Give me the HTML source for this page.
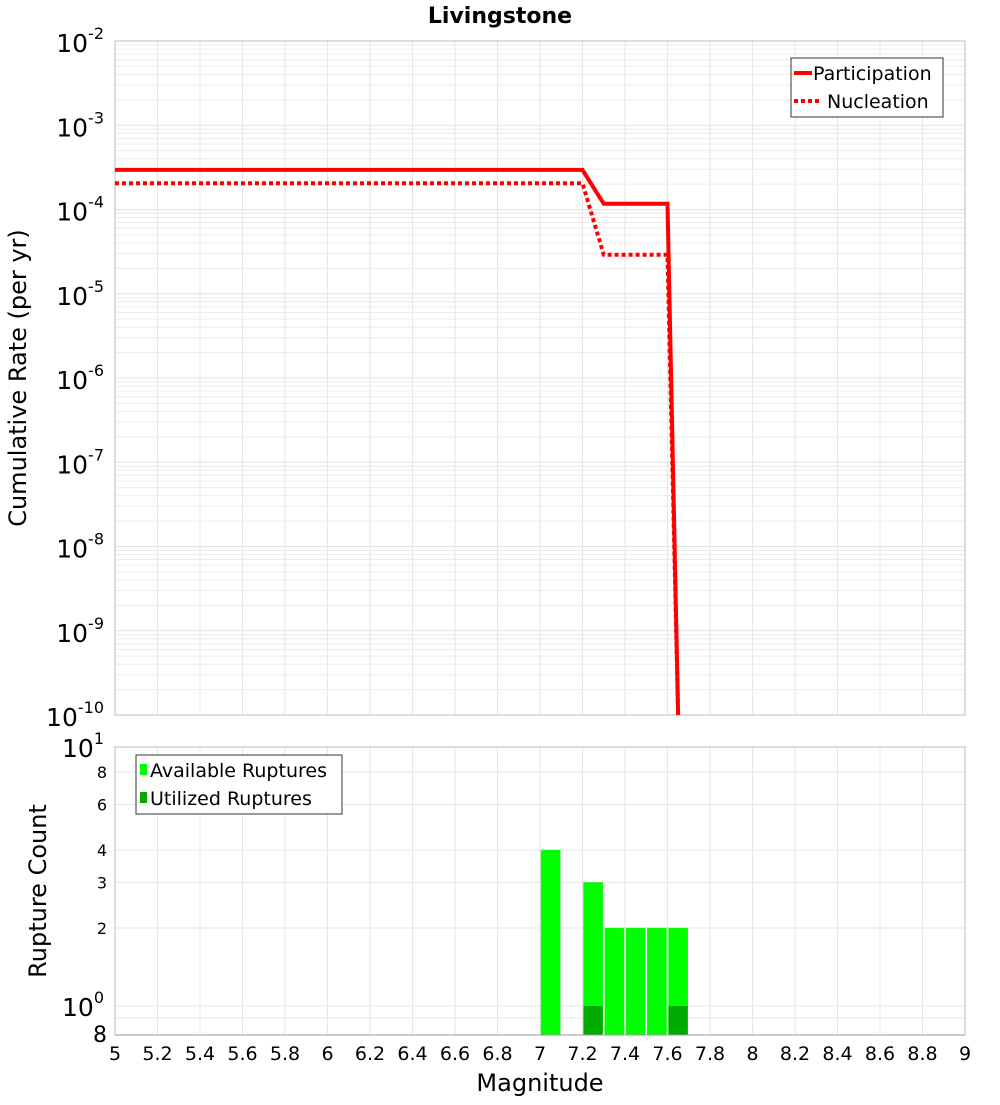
<!DOCTYPE html>
<html><head><meta charset="utf-8"><style>
body{margin:0;background:#fff;font-family:"Liberation Sans","DejaVu Sans",sans-serif}
svg text{font-family:"DejaVu Sans","Liberation Sans",sans-serif}
</style></head><body>
<svg id="c" width="1000" height="1100" xmlns="http://www.w3.org/2000/svg"></svg>
<script>
const partMags=[5,7.2,7.3,7.6,7.65];
const partVals=[2.95e-4,2.95e-4,1.17e-4,1.17e-4,1e-10];
const nuclMags=[5,7.2,7.3,7.6,7.65];
const nuclVals=[2.05e-4,2.05e-4,2.9e-5,2.9e-5,1e-10];
const binStarts=[7.0,7.2,7.3,7.4,7.5,7.6];
const availCounts=[4,3,2,2,2,2];
const utilCounts=[0,1,0,0,0,1];
const xTicks=[5,5.2,5.4,5.6,5.8,6,6.2,6.4,6.6,6.8,7,7.2,7.4,7.6,7.8,8,8.2,8.4,8.6,8.8,9];
const topExps=[-2,-3,-4,-5,-6,-7,-8,-9,-10];
const botTicks=[8,6,4,3,2];

const S=document.getElementById('c');const NS='http://www.w3.org/2000/svg';
function el(t,a,p,name){const e=document.createElementNS(NS,t);for(const k in a)e.setAttribute(k,a[k]);


(p||S).appendChild(e);return e;}
const X0=115,X1=965;
const x=m=>X0+(m-5)/4*(X1-X0);
const TY0=41,TY1=715;
const yT=v=>TY0+(-2-Math.log10(v))*(TY1-TY0)/8;
const BY0=747,BY1=1035;
const yB=v=>BY0+(1-Math.log10(v))*259;

const gT=el('g',{},S,'top-grid');
for(let e=-10;e<-2;e++)for(let k=1;k<10;k++){const v=k*Math.pow(10,e);const yy=yT(v);
el('line',{x1:X0,x2:X1,y1:yy,y2:yy,stroke:k==1?'#e0e0e0':'#ececec','stroke-width':1},gT,'grid-line');}
xTicks.forEach(t=>{el('line',{x1:x(t),x2:x(t),y1:TY0,y2:TY1,stroke:'#e6e6e6'},gT,'grid-line');});
el('rect',{x:X0,y:TY0,width:X1-X0,height:TY1-TY0,fill:'none',stroke:'#bbb'},S,'top-plot-frame');
const gB=el('g',{},S,'bottom-grid');
[10,8,6,4,3,2,1,0.9].forEach(v=>{const yy=yB(v);el('line',{x1:X0,x2:X1,y1:yy,y2:yy,stroke:'#e6e6e6'},gB,'grid-line');});
xTicks.forEach(t=>{el('line',{x1:x(t),x2:x(t),y1:BY0,y2:BY1,stroke:'#e6e6e6'},gB,'grid-line');});
el('rect',{x:X0,y:BY0,width:X1-X0,height:BY1-BY0,fill:'none',stroke:'#bbb'},S,'bottom-plot-frame');

const tt=el('text',{x:500,y:23,'text-anchor':'middle','font-size':22,'font-weight':'bold'},S,'chart-title');tt.textContent='Livingstone';

function pts(ms,vs){return ms.map((m,i)=>x(m)+','+Math.min(yT(vs[i]),TY1+2)).join(' ');}
const clip=el('clipPath',{id:'cp'},S,'clip');el('rect',{x:X0,y:TY0,width:X1-X0,height:TY1-TY0},clip,'clip-rect');
el('polyline',{points:pts(nuclMags,nuclVals),fill:'none',stroke:'#f00','stroke-width':4,'stroke-dasharray':'4 3','clip-path':'url(#cp)'},S,'nucleation-line');
el('polyline',{points:pts(partMags,partVals),fill:'none',stroke:'#f00','stroke-width':4,'clip-path':'url(#cp)'},S,'participation-line');

topExps.forEach(e=>{const yy=yT(Math.pow(10,e));const t=el('text',{x:104,y:yy+11,'text-anchor':'end','font-size':25},S,'y-tick-label');
t.innerHTML='10<tspan dy="-13" font-size="16">'+e+'</tspan>';});
const yl=el('text',{transform:'translate(26,378) rotate(-90)','text-anchor':'middle','font-size':24},S,'y-axis-title');yl.textContent='Cumulative Rate (per yr)';

const lg=el('g',{},S,'top-legend');
el('rect',{x:791,y:58,width:152,height:59,fill:'#fff',stroke:'#333'},lg,'legend-box');
el('line',{x1:794,x2:812,y1:73,y2:73,stroke:'#f00','stroke-width':4},lg,'legend-participation-swatch');
el('line',{x1:794,x2:822,y1:101,y2:101,stroke:'#f00','stroke-width':4,'stroke-dasharray':'4 3'},lg,'legend-nucleation-swatch');
let t1=el('text',{x:813,y:80,'font-size':19},lg,'legend-participation');t1.textContent='Participation';
let t2=el('text',{x:827,y:108,'font-size':19},lg,'legend-nucleation');t2.textContent='Nucleation';

binStarts.forEach((b,i)=>{
 const r=el('rect',{x:x(b)+1,y:yB(availCounts[i]),width:x(b+0.1)-x(b)-2,height:BY1-yB(availCounts[i]),fill:'#00ff00',stroke:'#33ee33','stroke-width':0.5},S,'available-bar');
 if(utilCounts[i]>0){el('rect',{x:x(b)+1,y:yB(utilCounts[i]),width:x(b+0.1)-x(b)-2,height:BY1-yB(utilCounts[i]),fill:'#00aa00'},S,'utilized-bar');}
});
el('line',{x1:X0,x2:X1,y1:BY1,y2:BY1,stroke:'#999'},S,'bottom-x-axis');

let a=el('text',{x:104,y:yB(10)+10,'text-anchor':'end','font-size':25},S,'y-tick-label');a.innerHTML='10<tspan dy="-13" font-size="16">1</tspan>';
let b=el('text',{x:104,y:yB(1)+10,'text-anchor':'end','font-size':25},S,'y-tick-label');b.innerHTML='10<tspan dy="-13" font-size="16">0</tspan>';
botTicks.forEach(v=>{const t=el('text',{x:107,y:yB(v)+6,'text-anchor':'end','font-size':16},S,'y-tick-label');t.textContent=v;});
let e8=el('text',{x:107,y:1042,'text-anchor':'end','font-size':22},S,'y-tick-label');e8.textContent='8';
const yl2=el('text',{transform:'translate(46,891) rotate(-90)','text-anchor':'middle','font-size':24},S,'y-axis-title-bottom');yl2.textContent='Rupture Count';

xTicks.forEach(t=>{const tx=el('text',{x:x(t),y:1060,'text-anchor':'middle','font-size':19},S,'x-tick-label');tx.textContent=String(t);});
const xl=el('text',{x:540,y:1091,'text-anchor':'middle','font-size':24},S,'x-axis-title');xl.textContent='Magnitude';

const lb=el('g',{},S,'bottom-legend');
el('rect',{x:136,y:755,width:206,height:59,fill:'#fff',stroke:'#333'},lb,'legend-box');
el('rect',{x:140,y:764,width:7,height:11,fill:'#00ff00'},lb,'legend-available-swatch');
el('rect',{x:140,y:792,width:7,height:11,fill:'#00aa00'},lb,'legend-utilized-swatch');
let t3=el('text',{x:150,y:777,'font-size':19},lb,'legend-available');t3.textContent='Available Ruptures';
let t4=el('text',{x:150,y:805,'font-size':19},lb,'legend-utilized');t4.textContent='Utilized Ruptures';
</script>
</body></html>
